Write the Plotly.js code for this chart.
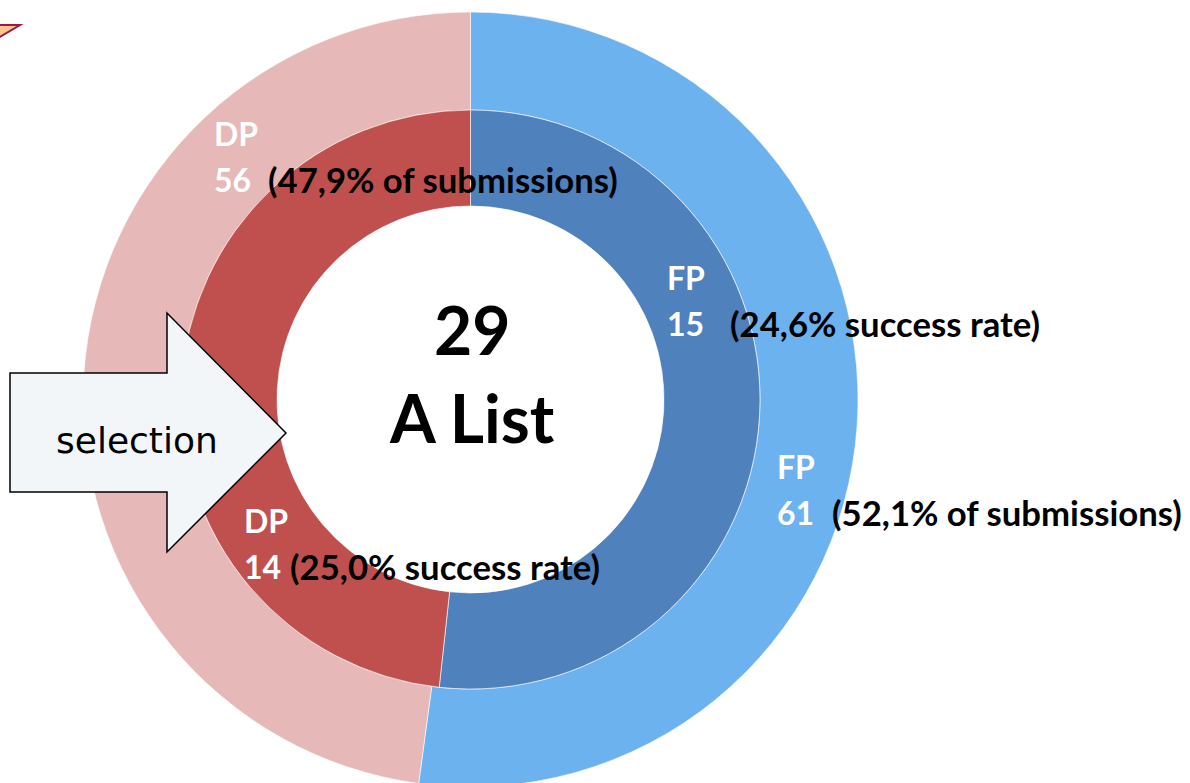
<!DOCTYPE html>
<html>
<head>
<meta charset="utf-8">
<script src="https://cdn.plot.ly/plotly-3.0.1.min.js"></script>
<style>
html,body{margin:0;padding:0;overflow:hidden;background:#fff;}
#chart{width:1190px;height:800px;}
</style>
</head>
<body>
<div id="chart"></div>
<script>
// ---- data ----
const categories = ["FP", "DP"];
const submissions = [61, 56];          // outer ring
const selected = [15, 14];             // inner ring (A List)
const submissionShare = ["52,1%", "47,9%"];
const successRate = ["24,6%", "25,0%"];
const centerValue = 29;
const centerLabel = "A List";
const arrowLabel = "selection";

// ---- geometry helpers ----
const W = 1190, H = 800;
const X = px => px / W;
const Y = py => 1 - py / H;
const cx = 470.5, cy = 399.5;
const rOuter = 387.5, rMid = 289.5, rHole = 193.5;
function dom(r){ return {x:[X(cx-r), X(cx+r)], y:[Y(cy+r), Y(cy-r)]}; }

const outerColors = ["#6CB2EE", "#E6B8B7"];
const innerColors = ["#4F81BD", "#C0504D"];

const common = {
  type: "pie", sort: false, direction: "clockwise", rotation: 0,
  textinfo: "none", hoverinfo: "skip", showlegend: false
};

const traces = [
  Object.assign({}, common, {
    labels: categories, values: submissions, domain: dom(rOuter), hole: rMid / rOuter,
    marker: {colors: outerColors, line: {color: "rgba(255,255,255,0.6)", width: 1}}
  }),
  Object.assign({}, common, {
    labels: categories, values: selected, domain: dom(rMid), hole: rHole / rMid,
    marker: {colors: innerColors, line: {color: "rgba(255,255,255,0.6)", width: 1}}
  })
];

const F = "Lato, 'Open Sans', sans-serif";
const LS = 32, PS = 34.7;
function ann(text, px, py, size, color, anchor){
  return {xref:"paper", yref:"paper", x:X(px), y:Y(py), text:text, showarrow:false,
    xanchor:anchor || "left", yanchor:"middle",
    font:{family:F, size:size, color:color, weight:"bold"}};
}
function b(t){ return "<b>" + t + "</b>"; }

const annotations = [
  // center
  ann(b(String(centerValue)), 472, 329, 66, "#000", "center"),
  ann(b(centerLabel), 472, 417, 66, "#000", "center"),
  // outer DP
  ann(b(categories[1]), 212, 133, LS, "#fff"),
  ann(b(String(submissions[1])), 212, 179, LS, "#fff"),
  ann(b("(" + submissionShare[1] + " of submissions)"), 266, 179, PS, "#000"),
  // inner FP
  ann(b(categories[0]), 665, 278, LS, "#fff"),
  ann(b(String(selected[0])), 665, 323, LS, "#fff"),
  ann(b("(" + successRate[0] + " success rate)"), 728, 323, PS, "#000"),
  // outer FP
  ann(b(categories[0]), 775, 466, LS, "#fff"),
  ann(b(String(submissions[0])), 775, 512, LS, "#fff"),
  ann(b("(" + submissionShare[0] + " of submissions)"), 830, 512, PS, "#000"),
  // inner DP
  ann(b(categories[1]), 242, 520, LS, "#fff"),
  ann(b(String(selected[1])), 242, 566, LS, "#fff"),
  ann(b("(" + successRate[1] + " success rate)"), 288, 566, PS, "#000"),
  // arrow label
  {xref:"paper", yref:"paper", x:X(137), y:Y(440), text:arrowLabel, showarrow:false,
   xanchor:"center", yanchor:"middle", font:{family:"DejaVu Sans", size:36, color:"#000"}}
];

function path(pts){
  return "M" + pts.map(p => X(p[0]) + "," + Y(p[1])).join(" L") + " Z";
}

const shapes = [
  {type:"path", xref:"paper", yref:"paper", layer:"above",
   path: path([[10,373],[167,373],[167,313],[286,433],[167,552],[167,492],[10,492]]),
   fillcolor:"#F2F6F9", line:{color:"#000", width:1.5}},
  {type:"path", xref:"paper", yref:"paper", layer:"above",
   path: path([[-2,25],[20,25],[-2,38]]),
   fillcolor:"#FBC58E", line:{color:"#9C1848", width:2}}
];

const layout = {
  width: W, height: H,
  margin: {l:0, r:0, t:0, b:0},
  paper_bgcolor: "#fff", plot_bgcolor: "#fff",
  showlegend: false,
  annotations: annotations,
  shapes: shapes
};

Plotly.newPlot("chart", traces, layout, {staticPlot:true, displayModeBar:false});
</script>
</body>
</html>
